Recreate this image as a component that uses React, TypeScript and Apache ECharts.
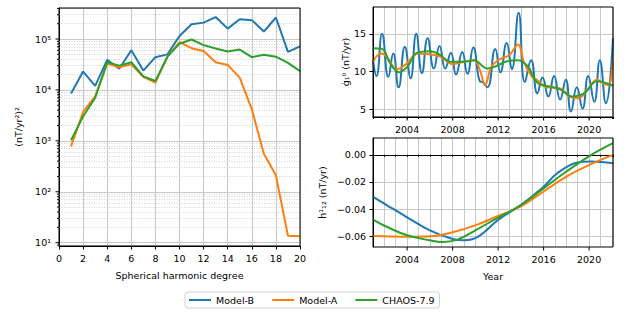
import React, { useEffect, useRef } from 'react';
import * as echarts from 'echarts';

// ---------- Left panel: power spectrum ----------
const degrees = [1, 2, 3, 4, 5, 6, 7, 8, 9, 10, 11, 12, 13, 14, 15, 16, 17, 18, 19, 20];
const specModelB = [8500, 23000, 12000, 39000, 26000, 60000, 24000, 44000, 50000, 115000, 195000, 210000, 270000, 160000, 245000, 235000, 140000, 265000, 56000, 72000];
const specModelA = [780, 3700, 7500, 33000, 28000, 32000, 18000, 14000, 45000, 87000, 66000, 58000, 35000, 31000, 17500, 4200, 560, 210, 13.7, 13.3];
const specChaos = [1030, 3000, 7000, 35000, 30000, 35000, 18500, 15000, 45000, 81000, 98000, 76000, 65000, 57000, 62000, 44000, 49000, 45000, 34000, 23500];

// ---------- Top right: g10 dot ----------
const gYearsB = [2001.0, 2001.3, 2001.8, 2002.35, 2002.78, 2003.25, 2003.8, 2004.3, 2004.8, 2005.3, 2005.8, 2006.35, 2006.85, 2007.35, 2007.85, 2008.3, 2008.85, 2009.3, 2009.82, 2010.4, 2010.65, 2011.05, 2011.75, 2012.2, 2012.75, 2013.2, 2013.8, 2014.35, 2014.9, 2015.45, 2015.9, 2016.42, 2016.92, 2017.45, 2017.95, 2018.4, 2018.92, 2019.42, 2019.92, 2020.45, 2020.94, 2021.47, 2022.1];
const gModelB = [11.5, 9.4, 15.0, 9.3, 12.4, 7.9, 13.3, 9.1, 15.0, 9.8, 14.4, 10.4, 13.4, 10.4, 12.5, 9.6, 12.6, 9.7, 13.2, 8.7, 8.6, 7.9, 13.0, 9.9, 13.8, 10.3, 17.8, 8.6, 11.5, 7.1, 9.2, 6.7, 9.4, 6.3, 8.9, 4.7, 7.9, 5.1, 9.4, 6.0, 11.5, 5.8, 14.4];
const gYearsA = [2001.0, 2001.7, 2002.2, 2003.1, 2004.0, 2004.9, 2006.0, 2006.9, 2008.0, 2009.0, 2009.9, 2010.4, 2010.85, 2011.4, 2012.0, 2013.0, 2013.75, 2014.3, 2015.0, 2015.4, 2016.3, 2017.4, 2018.4, 2019.1, 2019.85, 2020.7, 2021.3, 2021.7, 2022.1];
const gModelA = [11.3, 12.4, 12.0, 10.3, 11.1, 12.4, 12.3, 12.0, 11.0, 11.3, 11.5, 10.2, 8.2, 10.6, 11.5, 12.2, 13.6, 11.1, 9.3, 8.9, 7.9, 7.8, 6.6, 6.5, 7.6, 8.9, 8.4, 8.2, 11.3];
const gYearsC = [2001.0, 2001.8, 2002.5, 2003.3, 2004.05, 2004.9, 2006.05, 2006.9, 2007.8, 2009.0, 2009.87, 2011.05, 2011.8, 2012.65, 2013.7, 2014.6, 2015.45, 2016.6, 2017.5, 2018.5, 2019.55, 2020.7, 2022.1];
const gChaos = [13.1, 13.0, 11.1, 9.9, 10.7, 12.5, 12.7, 12.2, 11.3, 11.3, 11.5, 10.4, 10.7, 11.3, 11.5, 10.7, 8.5, 8.0, 7.6, 6.7, 7.1, 8.7, 8.1];

// ---------- Bottom right: h12 dot ----------
const hYearsB = [2001, 2002.2, 2004, 2006, 2008, 2009, 2010.2, 2012, 2014, 2016, 2017.2, 2019, 2020.2, 2022.1];
const hModelB = [-0.0309, -0.037, -0.046, -0.0556, -0.062, -0.063, -0.0605, -0.048, -0.037, -0.0235, -0.0136, -0.0057, -0.005, -0.0062];
const hYearsA = [2001, 2004, 2006, 2008, 2010, 2012, 2014, 2016, 2018, 2020.2, 2022.1];
const hModelA = [-0.0598, -0.0603, -0.060, -0.057, -0.052, -0.045, -0.038, -0.027, -0.016, -0.0067, 0.0];
const hYearsC = [2001, 2002.2, 2004, 2006, 2007.1, 2008.4, 2010, 2012, 2014, 2016, 2018, 2020.2, 2022.1];
const hChaos = [-0.0477, -0.053, -0.0593, -0.063, -0.0642, -0.0625, -0.0556, -0.0462, -0.037, -0.0247, -0.0123, 0.0, 0.0086];

// tick label lists
const gTicks = [5, 10, 15];
const hTicks = [-0.06, -0.04, -0.02, 0];
const yearMajor = [2004, 2008, 2012, 2016, 2020];

const names = ['Model-B', 'Model-A', 'CHAOS-7.9'];
const colors = ['#1f77b4', '#ff7f0e', '#2ca02c'];

const FONT = 'DejaVu Sans';
const FS = 9.5;
const G1 = { left: 59, top: 8, width: 241, height: 238 };
const G2 = { left: 373, top: 7, width: 240, height: 110 };
const G3 = { left: 373, top: 138, width: 240, height: 109 };
const LOG_MIN = 8.6;
const LOG_MAX = 407000;

const zip = (xs: number[], ys: number[]) => xs.map((x, i) => [x, ys[i]]);
const SUP = '⁰¹²³⁴⁵⁶⁷⁸⁹';
const sup = (n: number) => String(n).split('').map((c) => SUP[+c]).join('');
const minus = (s: string) => s.replace('-', '\u2212');

const gridLine = { show: true, lineStyle: { color: '#c8c8c8', width: 1 } };
const labelStyle = { fontFamily: FONT, fontSize: FS, color: '#000' };

export default function App() {
  const ref = useRef<HTMLDivElement>(null);
  useEffect(() => {
    const chart = echarts.init(ref.current!, null, { renderer: 'svg' });
    const minorVals: number[] = [];
    for (let e = 0; e <= 5; e++) for (let m = 2; m <= 9; m++) {
      const v = m * Math.pow(10, e);
      if (v > LOG_MIN && v < LOG_MAX) minorVals.push(v);
    }
    const majorVals = [10, 100, 1000, 10000, 100000];
    const lineSeries = (name: string, color: string, data: number[][], xi: number, smooth: boolean | number, extra: any = {}) => ({
      type: 'line', name, data, xAxisIndex: xi, yAxisIndex: xi, symbol: 'none', smooth,
      lineStyle: { color, width: 2 }, itemStyle: { color }, z: 3, ...extra,
    });
    const option: any = {
      animation: false,
      textStyle: { fontFamily: FONT, fontSize: FS, color: '#000' },
      grid: [
        { ...G1, containLabel: false },
        { ...G2, containLabel: false },
        { ...G3, containLabel: false },
      ],
      legend: {
        data: names.map((n) => ({ name: n, icon: 'rect' })),
        left: 185, top: 292, itemWidth: 22, itemHeight: 2, itemGap: 18,
        padding: [3, 5, 3, 4], borderColor: '#d0d0d0', borderWidth: 1, borderRadius: 3,
        textStyle: { fontFamily: FONT, fontSize: FS, color: '#000' },
      },
      xAxis: [
        {
          gridIndex: 0, type: 'value', min: 0, max: 20, interval: 2,
          name: 'Spherical harmonic degree', nameLocation: 'middle', nameGap: 24,
          nameTextStyle: labelStyle,
          axisLine: { show: true, lineStyle: { color: '#000', width: 1 } },
          axisTick: { show: true, length: 3.5, lineStyle: { color: '#000' } },
          axisLabel: { ...labelStyle, margin: 7 }, splitLine: gridLine,
        },
        {
          gridIndex: 1, type: 'value', min: 2001, max: 2022.1, interval: 1,
          axisLine: { show: true, lineStyle: { color: '#000', width: 1 } },
          axisTick: { show: true, length: 2, lineStyle: { color: '#000' } },
          axisLabel: { ...labelStyle, margin: 7, formatter: (v: number) => (yearMajor.includes(v) ? String(v) : '') },
          splitLine: gridLine,
        },
        {
          gridIndex: 2, type: 'value', min: 2001, max: 2022.1, interval: 1,
          name: 'Year', nameLocation: 'middle', nameGap: 24, nameTextStyle: labelStyle,
          axisLine: { show: true, lineStyle: { color: '#000', width: 1 } },
          axisTick: { show: true, length: 2, lineStyle: { color: '#000' } },
          axisLabel: { ...labelStyle, margin: 7, formatter: (v: number) => (yearMajor.includes(v) ? String(v) : '') },
          splitLine: gridLine,
        },
      ],
      yAxis: [
        {
          gridIndex: 0, type: 'log', logBase: 10, min: LOG_MIN, max: LOG_MAX,
          name: '(nT/yr²)²', nameLocation: 'middle', nameGap: 36, nameRotate: 90, nameTextStyle: labelStyle,
          axisLine: { show: true, lineStyle: { color: '#000', width: 1 } },
          axisTick: { show: false },
          axisLabel: {
            ...labelStyle, margin: 8,
            formatter: (v: number) => {
              const e = Math.log10(v); const r = Math.round(e);
              return Math.abs(e - r) < 1e-6 ? '10' + sup(r) : '';
            },
          },
          splitLine: gridLine,
        },
        {
          gridIndex: 1, type: 'value', min: 3.97, max: 18.56,
          name: 'ġ₁⁰ (nT/yr)', nameLocation: 'middle', nameGap: 23, nameRotate: 90, nameTextStyle: labelStyle,
          axisLine: { show: true, lineStyle: { color: '#000', width: 1 } },
          axisTick: { show: true, length: 3.5, customValues: gTicks, lineStyle: { color: '#000' } },
          axisLabel: { ...labelStyle, margin: 7, customValues: gTicks, formatter: (v: number) => String(v) },
          splitLine: gridLine,
        },
        {
          gridIndex: 2, type: 'value', min: -0.0679, max: 0.0124,
          name: 'ḣ¹₁₂ (nT/yr)', nameLocation: 'middle', nameGap: 46, nameRotate: 90, nameTextStyle: labelStyle,
          axisLine: { show: true, lineStyle: { color: '#000', width: 1 } },
          axisTick: { show: true, length: 3.5, customValues: hTicks, lineStyle: { color: '#000' } },
          axisLabel: { ...labelStyle, margin: 7, customValues: hTicks, formatter: (v: number) => minus(v.toFixed(2)) },
          splitLine: gridLine,
        },
      ],
      series: [
        lineSeries(names[0], colors[0], zip(degrees, specModelB), 0, false, {
          markLine: {
            silent: true, symbol: 'none', label: { show: false },
            lineStyle: { color: '#c8c8c8', width: 0.8, type: [1, 1.5] },
            data: minorVals.map((v) => ({ yAxis: v })), z: 1,
          },
        }),
        lineSeries(names[1], colors[1], zip(degrees, specModelA), 0, false),
        lineSeries(names[2], colors[2], zip(degrees, specChaos), 0, false),
        lineSeries(names[0], colors[0], zip(gYearsB, gModelB), 1, 0.5),
        lineSeries(names[1], colors[1], zip(gYearsA, gModelA), 1, 0.4),
        lineSeries(names[2], colors[2], zip(gYearsC, gChaos), 1, 0.4),
        lineSeries(names[0], colors[0], zip(hYearsB, hModelB), 2, 0.4),
        lineSeries(names[1], colors[1], zip(hYearsA, hModelA), 2, 0.4),
        lineSeries(names[2], colors[2], zip(hYearsC, hChaos), 2, 0.4),
      ],
    };
    chart.setOption(option);

    // ticks and frames drawn with the axes' own scales
    const g: any[] = [];
    const tick = (x1: number, y1: number, x2: number, y2: number) =>
      g.push({ type: 'line', silent: true, z: 100, shape: { x1, y1, x2, y2 }, style: { stroke: '#000', lineWidth: 1 } });
    const lx = G1.left;
    majorVals.forEach((v) => {
      const y = chart.convertToPixel({ yAxisIndex: 0 }, v) as number;
      tick(lx - 3.5, y, lx, y);
    });
    minorVals.forEach((v) => {
      const y = chart.convertToPixel({ yAxisIndex: 0 }, v) as number;
      tick(lx - 2, y, lx, y);
    });
    [[1, G2], [2, G3]].forEach(([xi, G]: any) => {
      const yb = G.top + G.height;
      yearMajor.forEach((yr) => {
        const x = chart.convertToPixel({ xAxisIndex: xi }, yr) as number;
        tick(x, yb, x, yb + 3.5);
      });
    });
    [G1, G2, G3].forEach((G) => {
      g.push({
        type: 'rect', silent: true, z: 101,
        shape: { x: G.left, y: G.top, width: G.width, height: G.height },
        style: { fill: 'none', stroke: '#000', lineWidth: 1 },
      });
    });
    chart.setOption({ graphic: g });
    return () => chart.dispose();
  }, []);
  return <div ref={ref} style={{ position: 'fixed', left: 0, top: 0, width: 630, height: 315, background: '#fff' }} />;
}
